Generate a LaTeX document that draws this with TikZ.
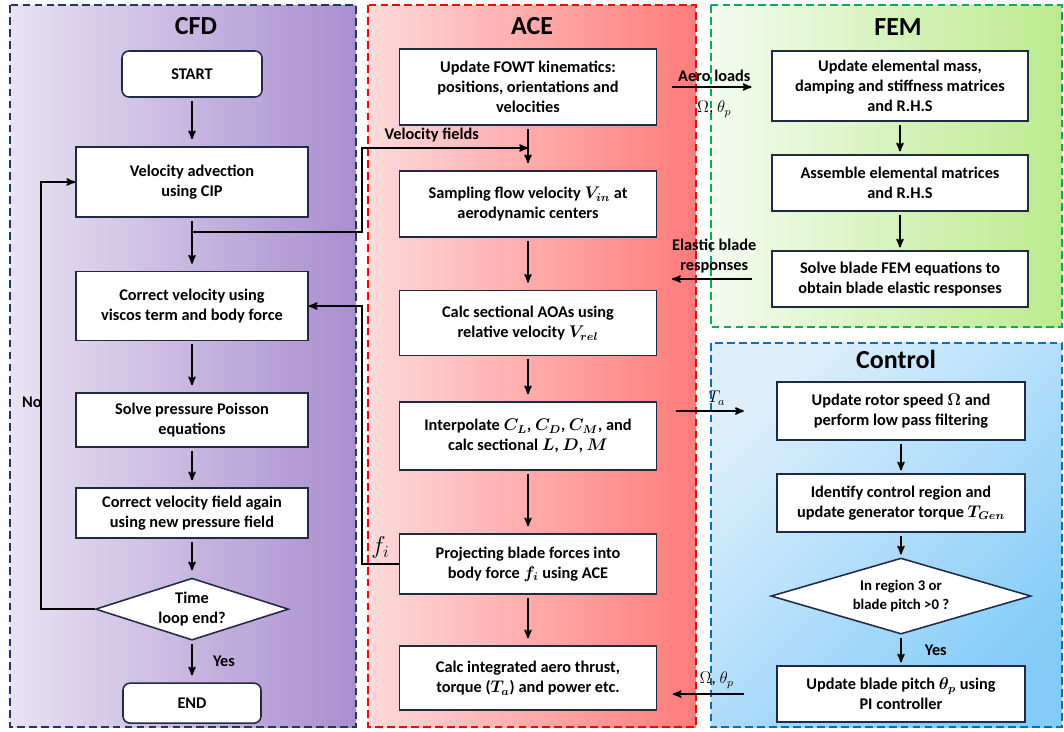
\documentclass[tikz,border=0pt]{standalone}
\usepackage{amsmath}
\usepackage{bm}
\usepackage{fontspec}
\setmainfont{Carlito}
\usepackage{tikz}
\usetikzlibrary{calc}
\usetikzlibrary{arrows}
\usetikzlibrary{shapes}
\usetikzlibrary{positioning}
\definecolor{boxline}{HTML}{1F2A44}
\definecolor{cfdline}{HTML}{1F3864}
\definecolor{aceline}{HTML}{FF0000}
\definecolor{femline}{HTML}{00B050}
\definecolor{ctrlline}{HTML}{0070C0}
\definecolor{cfdL}{HTML}{E8E2F2}
\definecolor{cfdR}{HTML}{A98ECF}
\definecolor{aceL}{HTML}{FDDADA}
\definecolor{aceR}{HTML}{FF7B7B}
\definecolor{femL}{HTML}{F3FBEF}
\definecolor{femR}{HTML}{BCEB8E}
\definecolor{ctrlL}{HTML}{DDEFFC}
\definecolor{ctrlR}{HTML}{84CCF8}

\begin{document}
\begin{tikzpicture}[x=0.025cm,y=-0.025cm,node distance=25mm,on grid,>=stealth',
		block/.style={rectangle,draw=boxline,line width=1.1pt,fill=white,align=center,inner sep=2pt,font=\bfseries\boldmath\fontsize{11.6}{14.2}\selectfont},
		term/.style={block,rounded corners=5pt},
		decision/.style={diamond,draw=boxline,line width=1.1pt,fill=white,align=center,inner sep=0pt,aspect=3,font=\bfseries\fontsize{11.6}{14.2}\selectfont},
		cfdbox/.style={block,minimum width=5.8cm},
		acebox/.style={block,minimum width=6.425cm},
		fembox/.style={block,minimum width=6.4cm},
		ctrlbox/.style={block,minimum width=6.2cm},
		panel/.style={line width=1.4pt,dash pattern=on 5.5pt off 3pt},
		title/.style={font=\bfseries\fontsize{18.5}{20}\selectfont},
		flow/.style={->,line width=1.2pt,shorten <=2pt,shorten >=5pt},
		link/.style={->,line width=1.2pt},
		lbl/.style={font=\bfseries\fontsize{11.6}{14.2}\selectfont,align=center},
		sym/.style={font=\fontsize{12}{14}\selectfont}]
		\useasboundingbox (0,0) rectangle (1064,731);
		
		\draw[panel,draw=cfdline,left color=cfdL,right color=cfdR] (10,5) rectangle (356,727);
		\draw[panel,draw=aceline,left color=aceL,right color=aceR] (368,5) rectangle (696,727);
		\draw[panel,draw=femline,left color=femL,right color=femR] (711,5) rectangle (1062,327);
		\draw[panel,draw=ctrlline,top color=ctrlL,bottom color=ctrlR,shading angle=45] (711,343) rectangle (1062,727);
		
		\node[title] (cfdtitle)  at (196,26)  {CFD};
		\node[title] (acetitle)  at (532,26)  {ACE};
		\node[title] (femtitle)  at (898,27)  {FEM};
		\node[title] (ctrltitle) at (896,359) {Control};
		
		\node[term,minimum width=3.5cm,minimum height=1.15cm] (start) at (192,74) {START};
		\node[cfdbox,minimum height=1.75cm]  (adv)   [below=2.7cm of start]  {Velocity advection\\using CIP};
		\node[cfdbox,minimum height=1.725cm] (corr)  [below=3.1cm of adv]    {Correct velocity using\\viscos term and body force};
		\node[cfdbox,minimum height=1.35cm]  (pois)  [below=2.85cm of corr]  {Solve pressure Poisson\\equations};
		\node[cfdbox,minimum height=1.25cm]  (again) [below=2.325cm of pois] {Correct velocity field again\\using new pressure field};
		\node[decision,minimum width=4.825cm,minimum height=1.55cm] (loop) [below=2.4cm of again] {Time\\loop end?};
		\node[term,minimum width=3.45cm,minimum height=1cm] (end) [below=2.35cm of loop] {END};
		
		\node[acebox,minimum height=1.9cm]   (fowt)   at (528,87) {Update FOWT kinematics:\\positions, orientations and\\velocities};
		\node[acebox,minimum height=1.65cm]  (samp)   [below=2.925cm of fowt]  {Sampling flow velocity $V_{in}$ at\\aerodynamic centers};
		\node[acebox,minimum height=1.625cm] (aoa)    [below=2.975cm of samp]  {Calc sectional AOAs using\\relative velocity $V_{rel}$};
		\node[acebox,minimum height=1.7cm]   (interp) [below=2.825cm of aoa]   {Interpolate $C_L$, $C_D$, $C_M$, and\\calc sectional $L$, $D$, $M$};
		\node[acebox,minimum height=1.5cm]   (proj)   [below=3.2cm of interp]  {Projecting blade forces into\\body force $f_i$ using ACE};
		\node[acebox,minimum height=1.6cm]   (thrust) [below=2.85cm of proj]   {Calc integrated aero thrust,\\torque ($T_a$) and power etc.};
		
		\node[fembox,minimum height=1.75cm] (mats)  at (900,86) {Update elemental mass,\\damping and stiffness matrices\\and R.H.S};
		\node[fembox,minimum height=1.4cm]  (asm)   [below=2.425cm of mats] {Assemble elemental matrices\\and R.H.S};
		\node[fembox,minimum height=1.4cm]  (solve) [below=2.4cm of asm]    {Solve blade FEM equations to\\obtain blade elastic responses};
		
		\node[ctrlbox,minimum height=1.45cm] (speed)  at (901,411) {Update rotor speed $\Omega$ and\\perform low pass filtering};
		\node[ctrlbox,minimum height=1.45cm] (torque) [below=2.3cm of speed] {Identify control region and\\update generator torque $T_{Gen}$};
		\node[decision,minimum width=6.5cm,minimum height=1.9cm,font=\bfseries\fontsize{10.5}{14}\selectfont] (region) [below=2.325cm of torque] {In region 3 or\\blade pitch >0 ?};
		\node[ctrlbox,minimum height=1.4cm] (pitch) [below=2.45cm of region] {Update blade pitch $\theta_p$ using\\PI controller};
		
		\coordinate (gap) at (362,0);
		\coordinate (vfout) at ([yshift=-10pt]adv.south);
		\coordinate (vfin) at ($(fowt.south)!0.5!(samp.north)$);
		
		\path[flow]
		(start) edge (adv)
		(adv) edge (corr)
		(corr) edge (pois)
		(pois) edge (again)
		(again) edge (loop)
		(loop) edge node[lbl,right=11pt] {Yes} (end)
		(fowt) edge (samp)
		(samp) edge (aoa)
		(aoa) edge (interp)
		(interp) edge (proj)
		(proj) edge (thrust);
		
		\path[link,shorten <=2pt,shorten >=2pt]
		(mats) edge (asm)
		(asm) edge (solve)
		(speed) edge (torque)
		(torque) edge (region)
		(region) edge node[lbl,right=13pt] {Yes} (pitch);
		
		\draw[link] (loop.west) -- ++(-54,0) |- (adv.west);
		\node[lbl] (no) at (32,402) {No};
		
		\draw[link] (vfout) -- (vfout -| gap) |- node[lbl,above,pos=0.71] {Velocity fields} (vfin);
		\draw[link] (proj.west) -- node[above,font=\fontsize{17}{17}\selectfont] {$f_i$} (proj.west -| gap) |- (corr.east);
		
		\path[link]
		(fowt.east) edge[shorten <=10.5pt,shorten >=14pt] node[lbl,above] {Aero loads} node[sym,below=6pt] {$\Omega$, $\theta_p$} (fowt.east -| mats.west)
		(solve.west) edge[shorten <=14pt,shorten >=10.5pt] node[lbl,above] {Elastic blade\\responses} (solve.west -| fowt.east)
		(speed.west -| interp.east) edge[shorten <=13pt,shorten >=23pt] node[sym,above] {$T_a$} (speed.west)
		(pitch.west) edge[shorten <=23pt,shorten >=11pt] node[sym,above] {$\Omega$, $\theta_p$} (pitch.west -| thrust.east);
\end{tikzpicture}
\end{document}
